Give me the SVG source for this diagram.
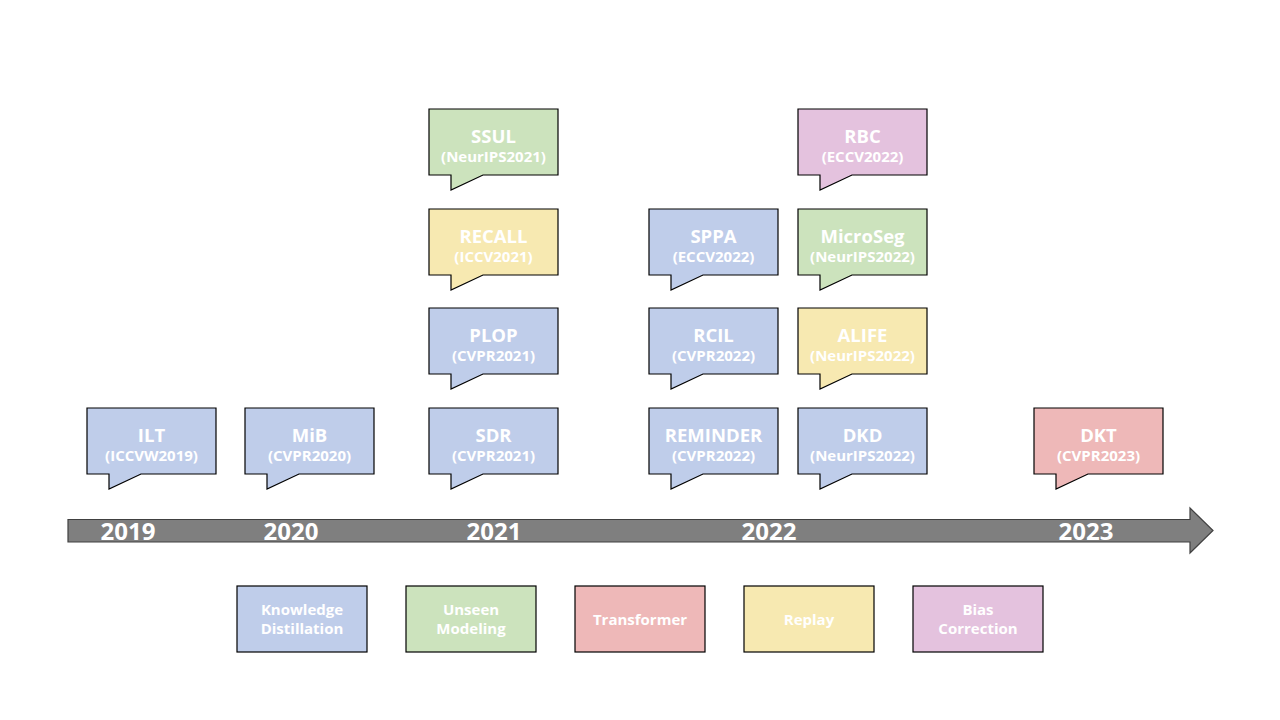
<svg xmlns="http://www.w3.org/2000/svg" width="1280" height="720" viewBox="0 0 1280 720">
<style>
.b{stroke:#000;stroke-width:1.2}
.kd{fill:#BFCDEA}.um{fill:#CCE3BD}.tr{fill:#EEB8B8}.rp{fill:#F7E9B1}.bc{fill:#E4C2DE}
text{font-family:"Open Sans","Noto Sans","DejaVu Sans",sans-serif;font-weight:bold;fill:#fff;text-anchor:middle}
.t{font-size:18.5px}.s{font-size:15px}.y{font-size:24px}.l{font-size:15px}
</style>
<defs>
<path id="c" d="M0,0 H129 V66 H54 L22,81 V66 H0 Z"/>
</defs>
<rect width="1280" height="720" fill="#fff"/>
<g id="timeline">
<path d="M68,519.5 H1190 V508 L1213,530.5 L1190,553 V542 H68 Z" fill="#7F7F7F" stroke="#404040" stroke-width="1.2"/>
<text class="y" x="128" y="540">2019</text>
<text class="y" x="291" y="540">2020</text>
<text class="y" x="494" y="540">2021</text>
<text class="y" x="769" y="540">2022</text>
<text class="y" x="1086" y="540">2023</text>
</g>
<g id="connectors"></g>
<g id="ILT" transform="translate(87,408)"><use href="#c" class="b kd"/><text class="t" x="64.5" y="34">ILT</text><text class="s" x="64.5" y="53">(ICCVW2019)</text></g>
<g id="MiB" transform="translate(245,408)"><use href="#c" class="b kd"/><text class="t" x="64.5" y="34">MiB</text><text class="s" x="64.5" y="53">(CVPR2020)</text></g>
<g id="SSUL" transform="translate(429,109)"><use href="#c" class="b um"/><text class="t" x="64.5" y="34">SSUL</text><text class="s" x="64.5" y="53">(NeurIPS2021)</text></g>
<g id="RECALL" transform="translate(429,209)"><use href="#c" class="b rp"/><text class="t" x="64.5" y="34">RECALL</text><text class="s" x="64.5" y="53">(ICCV2021)</text></g>
<g id="PLOP" transform="translate(429,308)"><use href="#c" class="b kd"/><text class="t" x="64.5" y="34">PLOP</text><text class="s" x="64.5" y="53">(CVPR2021)</text></g>
<g id="SDR" transform="translate(429,408)"><use href="#c" class="b kd"/><text class="t" x="64.5" y="34">SDR</text><text class="s" x="64.5" y="53">(CVPR2021)</text></g>
<g id="SPPA" transform="translate(649,209)"><use href="#c" class="b kd"/><text class="t" x="64.5" y="34">SPPA</text><text class="s" x="64.5" y="53">(ECCV2022)</text></g>
<g id="RCIL" transform="translate(649,308)"><use href="#c" class="b kd"/><text class="t" x="64.5" y="34">RCIL</text><text class="s" x="64.5" y="53">(CVPR2022)</text></g>
<g id="REMINDER" transform="translate(649,408)"><use href="#c" class="b kd"/><text class="t" x="64.5" y="34">REMINDER</text><text class="s" x="64.5" y="53">(CVPR2022)</text></g>
<g id="RBC" transform="translate(798,109)"><use href="#c" class="b bc"/><text class="t" x="64.5" y="34">RBC</text><text class="s" x="64.5" y="53">(ECCV2022)</text></g>
<g id="MicroSeg" transform="translate(798,209)"><use href="#c" class="b um"/><text class="t" x="64.5" y="34">MicroSeg</text><text class="s" x="64.5" y="53">(NeurIPS2022)</text></g>
<g id="ALIFE" transform="translate(798,308)"><use href="#c" class="b rp"/><text class="t" x="64.5" y="34">ALIFE</text><text class="s" x="64.5" y="53">(NeurIPS2022)</text></g>
<g id="DKD" transform="translate(798,408)"><use href="#c" class="b kd"/><text class="t" x="64.5" y="34">DKD</text><text class="s" x="64.5" y="53">(NeurIPS2022)</text></g>
<g id="DKT" transform="translate(1034,408)"><use href="#c" class="b tr"/><text class="t" x="64.5" y="34">DKT</text><text class="s" x="64.5" y="53">(CVPR2023)</text></g>
<g id="legend-kd"><rect x="237" y="586" width="130" height="66" class="b kd"/><text class="l" x="302" y="615">Knowledge</text><text class="l" x="302" y="634">Distillation</text></g>
<g id="legend-um"><rect x="406" y="586" width="130" height="66" class="b um"/><text class="l" x="471" y="615">Unseen</text><text class="l" x="471" y="634">Modeling</text></g>
<g id="legend-tr"><rect x="575" y="586" width="130" height="66" class="b tr"/><text class="l" x="640" y="625">Transformer</text></g>
<g id="legend-rp"><rect x="744" y="586" width="130" height="66" class="b rp"/><text class="l" x="809" y="625">Replay</text></g>
<g id="legend-bc"><rect x="913" y="586" width="130" height="66" class="b bc"/><text class="l" x="978" y="615">Bias</text><text class="l" x="978" y="634">Correction</text></g>
</svg>
